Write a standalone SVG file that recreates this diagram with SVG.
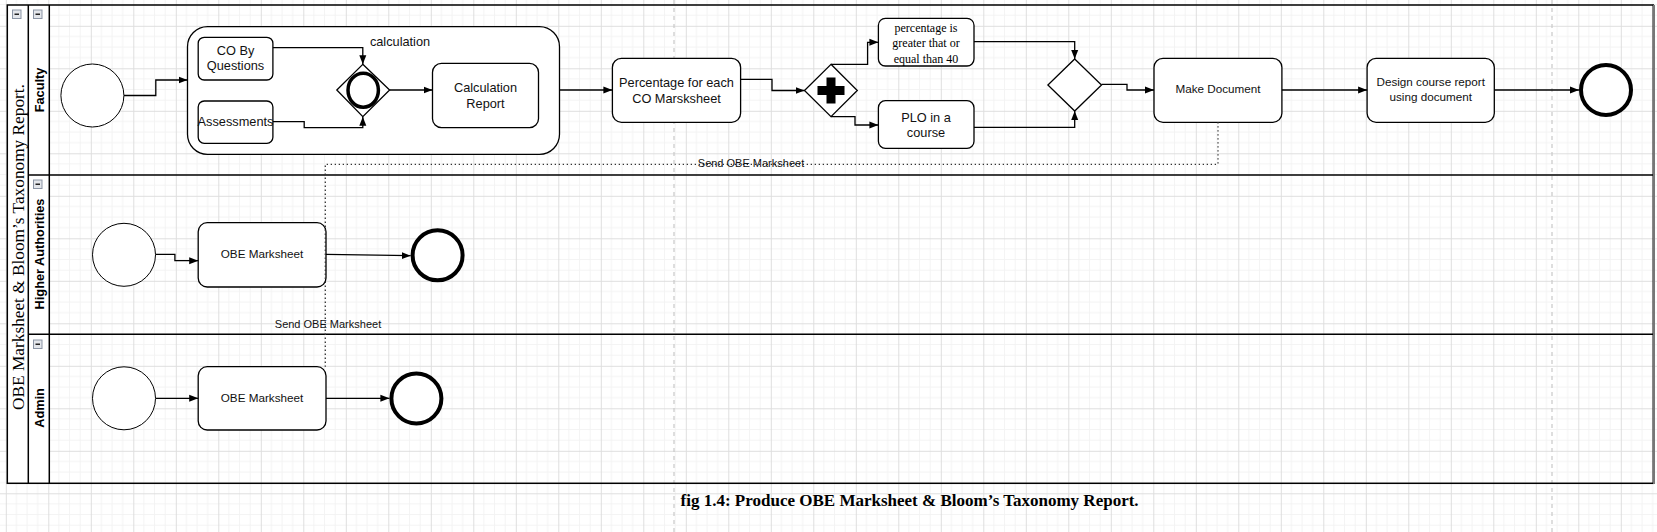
<svg xmlns="http://www.w3.org/2000/svg" width="1657" height="532" viewBox="0 0 1657 532">
<style>
.sans{font-family:"Liberation Sans",Arial,sans-serif;fill:#111}
.serif{font-family:"Liberation Serif","Times New Roman",serif;fill:#000}
.t13{font-size:12.75px}
.t12{font-size:11.7px}
.t11{font-size:11px}
.box{fill:#fff;stroke:#000;stroke-width:1.3}
.start{fill:#fff;stroke:#000;stroke-width:1}
.end{fill:#fff;stroke:#000;stroke-width:4}
.edge{fill:none;stroke:#000;stroke-width:1.3}
.msg{fill:none;stroke:#333;stroke-width:1.3;stroke-dasharray:1.3 2.7}
.lane{fill:none;stroke:#000;stroke-width:1.5}
.pb{stroke:#c8c8c8;stroke-width:1.2;stroke-dasharray:4 4}
.icon{fill:#e3e6eb;stroke:#8b95a5;stroke-width:1}
.lbl{font-family:"Liberation Sans",Arial,sans-serif;font-weight:bold;font-size:12.75px;fill:#000}
</style>
<defs>
<pattern id="grid" patternUnits="userSpaceOnUse" x="5.8" y="25.8" width="42.5" height="42.5">
<path d="M10.625 0V42.5M21.25 0V42.5M31.875 0V42.5M0 10.625H42.5M0 21.25H42.5M0 31.875H42.5" stroke="#f3f3f3" stroke-width="1" fill="none"/>
<path d="M0.5 0V42.5M0 0.5H42.5" stroke="#dedede" stroke-width="1" fill="none"/>
</pattern>
<marker id="arr" markerUnits="userSpaceOnUse" markerWidth="10" markerHeight="8" refX="9" refY="4" orient="auto">
<path d="M0,0.5 L9,4 L0,7.5 Z" fill="#000"/>
</marker>
</defs>
<rect x="0" y="0" width="1657" height="532" fill="#fff"/>
<rect x="0" y="0" width="1657" height="532" fill="url(#grid)"/>
<line class="pb" x1="674" y1="0" x2="674" y2="532"/>
<line class="pb" x1="1552" y1="0" x2="1552" y2="532"/>

<g id="pool">
<rect x="7.3" y="5" width="42" height="478.3" fill="#fff"/>
<rect x="7.3" y="5" width="1646" height="478.3" class="lane"/>
<line x1="1654" y1="5" x2="1654" y2="484" stroke="#777" stroke-width="2"/>
<line x1="28.3" y1="5" x2="28.3" y2="483.3" class="lane"/>
<line x1="49.3" y1="5" x2="49.3" y2="483.3" class="lane"/>
<line x1="28.3" y1="175" x2="1653" y2="175" class="lane"/>
<line x1="28.3" y1="334.3" x2="1653" y2="334.3" class="lane"/>
<text class="serif" font-size="17.3" transform="translate(18,247) rotate(-90)" text-anchor="middle" dy="0.33em">OBE Marksheet &amp; Bloom’s Taxonomy Report.</text>
<rect class="icon" x="12.5" y="10" width="8.5" height="8.5"/>
<line x1="14.5" y1="14.25" x2="19" y2="14.25" stroke="#222" stroke-width="1.5"/>
</g>

<g id="lane-faculty">
<text class="lbl" transform="translate(39.5,90) rotate(-90)" text-anchor="middle" dy="0.35em">Faculty</text>
<rect class="icon" x="33.5" y="10" width="8.5" height="8.5"/>
<line x1="35.5" y1="14.25" x2="40" y2="14.25" stroke="#222" stroke-width="1.5"/>
</g>
<g id="lane-higher">
<text class="lbl" transform="translate(39.5,254) rotate(-90)" text-anchor="middle" dy="0.35em">Higher Authorities</text>
<rect class="icon" x="33.5" y="180" width="8.5" height="8.5"/>
<line x1="35.5" y1="184.25" x2="40" y2="184.25" stroke="#222" stroke-width="1.5"/>
</g>
<g id="lane-admin">
<text class="lbl" transform="translate(39.5,408) rotate(-90)" text-anchor="middle" dy="0.35em">Admin</text>
<rect class="icon" x="33.5" y="340" width="8.5" height="8.5"/>
<line x1="35.5" y1="344.25" x2="40" y2="344.25" stroke="#222" stroke-width="1.5"/>
</g>

<g id="f-start"><circle class="start" cx="92.4" cy="95.5" r="31.5"/></g>
<g id="subprocess"><rect class="box" x="187.5" y="26.7" width="372" height="127.6" rx="20"/></g>
<g id="co-by-questions">
<rect class="box" x="198.2" y="37.3" width="74.7" height="42.7" rx="6"/>
<text class="sans t13" text-anchor="middle"><tspan x="235.5" y="54.5">CO By</tspan><tspan x="235.5" y="69.5">Questions</tspan></text>
</g>
<g id="assessments">
<rect class="box" x="198.2" y="101" width="74.7" height="42.3" rx="6"/>
<text class="sans t13" text-anchor="middle" x="235.5" y="126.2">Assessments</text>
</g>
<g id="event-gateway">
<polygon class="box" points="362.8,64.3 389.6,90 362.8,116.7 336.8,90"/>
<ellipse cx="363.2" cy="90.2" rx="15.2" ry="17" fill="none" stroke="#000" stroke-width="3.5"/>
<text class="sans t13" text-anchor="middle" x="400" y="46.2">calculation</text>
</g>
<g id="calculation-report">
<rect class="box" x="432.5" y="63.3" width="106" height="64.4" rx="9"/>
<text class="sans t13" text-anchor="middle"><tspan x="485.5" y="91.8">Calculation</tspan><tspan x="485.5" y="107.8">Report</tspan></text>
</g>
<g id="percentage">
<rect class="box" x="612.4" y="58.3" width="128.2" height="64" rx="9"/>
<text class="sans t13" text-anchor="middle"><tspan x="676.5" y="86.5">Percentage for each</tspan><tspan x="676.5" y="103">CO Marsksheet</tspan></text>
</g>
<g id="parallel-gateway">
<polygon class="box" points="831,64.3 857.3,90.5 831,116.7 804.5,90.5"/>
<path d="M826.5,77.5H835.5V86H844.5V95H835.5V103.5H826.5V95H817.5V86H826.5Z" fill="#000"/>
</g>
<g id="percentage-40">
<rect class="box" x="878.4" y="18.3" width="95.6" height="47.7" rx="7"/>
<text class="serif" font-size="12" text-anchor="middle"><tspan x="926" y="31.5">percentage is</tspan><tspan x="926" y="47">greater that or</tspan><tspan x="926" y="63">equal than 40</tspan></text>
</g>
<g id="plo">
<rect class="box" x="878.4" y="100.7" width="95.6" height="47.6" rx="7"/>
<text class="sans t13" text-anchor="middle"><tspan x="926" y="121.8">PLO in a</tspan><tspan x="926" y="137.2">course</tspan></text>
</g>
<g id="exclusive-gateway"><polygon class="box" points="1074.7,59 1101.5,85 1074.7,111 1047.9,85"/></g>
<g id="make-document">
<rect class="box" x="1154" y="58.3" width="127.9" height="64" rx="9"/>
<text class="sans t12" text-anchor="middle" x="1218" y="93">Make Document</text>
</g>
<g id="design-report">
<rect class="box" x="1367.1" y="58.3" width="127.2" height="64" rx="9"/>
<text class="sans t12" text-anchor="middle"><tspan x="1430.7" y="85.8">Design course report</tspan><tspan x="1430.7" y="100.8">using document</tspan></text>
</g>
<g id="f-end"><circle class="end" cx="1606" cy="90" r="25"/></g>

<g id="h-start"><circle class="start" cx="124" cy="254.8" r="31.5"/></g>
<g id="h-obe">
<rect class="box" x="198.2" y="222.7" width="127.8" height="64.3" rx="9"/>
<text class="sans t12" text-anchor="middle" x="262" y="258.2">OBE Marksheet</text>
</g>
<g id="h-end"><circle class="end" cx="437.6" cy="255.3" r="25"/></g>

<g id="a-start"><circle class="start" cx="124" cy="398.3" r="31.5"/></g>
<g id="a-obe">
<rect class="box" x="198.2" y="366.7" width="127.8" height="63.3" rx="9"/>
<text class="sans t12" text-anchor="middle" x="262" y="401.9">OBE Marksheet</text>
</g>
<g id="a-end"><circle class="end" cx="416.4" cy="398.5" r="25"/></g>

<g id="connectors">
<path class="edge" marker-end="url(#arr)" d="M124,95.5H155.8V80H187.5"/>
<path class="edge" marker-end="url(#arr)" d="M272.9,47.7H362.8V64.3"/>
<path class="edge" marker-end="url(#arr)" d="M272.9,121.7H304.2V127.7H362.8V116.7"/>
<path class="edge" marker-end="url(#arr)" d="M389.6,90H432.5"/>
<path class="edge" marker-end="url(#arr)" d="M559.5,90H612.4"/>
<path class="edge" marker-end="url(#arr)" d="M740.6,79.3H772V90.5H804.5"/>
<path class="edge" marker-end="url(#arr)" d="M831,64.3H867.6V42.3H878.4"/>
<path class="edge" marker-end="url(#arr)" d="M831,116.7H855V125H878.4"/>
<path class="edge" marker-end="url(#arr)" d="M974,41.7H1074.7V59"/>
<path class="edge" marker-end="url(#arr)" d="M974,127.3H1074.7V111"/>
<path class="edge" marker-end="url(#arr)" d="M1101.5,84.3H1127V90H1154"/>
<path class="edge" marker-end="url(#arr)" d="M1281.9,90H1367.1"/>
<path class="edge" marker-end="url(#arr)" d="M1494.3,90H1579"/>
<path class="edge" marker-end="url(#arr)" d="M156,254.3H174.9V260.7H198.2"/>
<path class="edge" marker-end="url(#arr)" d="M326,254.3L410.6,255.7"/>
<path class="edge" marker-end="url(#arr)" d="M156,398.3H198.2"/>
<path class="edge" marker-end="url(#arr)" d="M326,398.3H389.4"/>
<path class="msg" d="M1218,122.3V164.3H325.3V366.7"/>
<text class="sans t11" text-anchor="middle" x="751" y="167.3">Send OBE Marksheet</text>
<text class="sans t11" text-anchor="middle" x="328" y="328.3">Send OBE Marksheet</text>
</g>

<text class="serif" font-size="17" font-weight="bold" text-anchor="middle" x="909.6" y="506">fig 1.4: Produce OBE Marksheet &amp; Bloom’s Taxonomy Report.</text>
</svg>
